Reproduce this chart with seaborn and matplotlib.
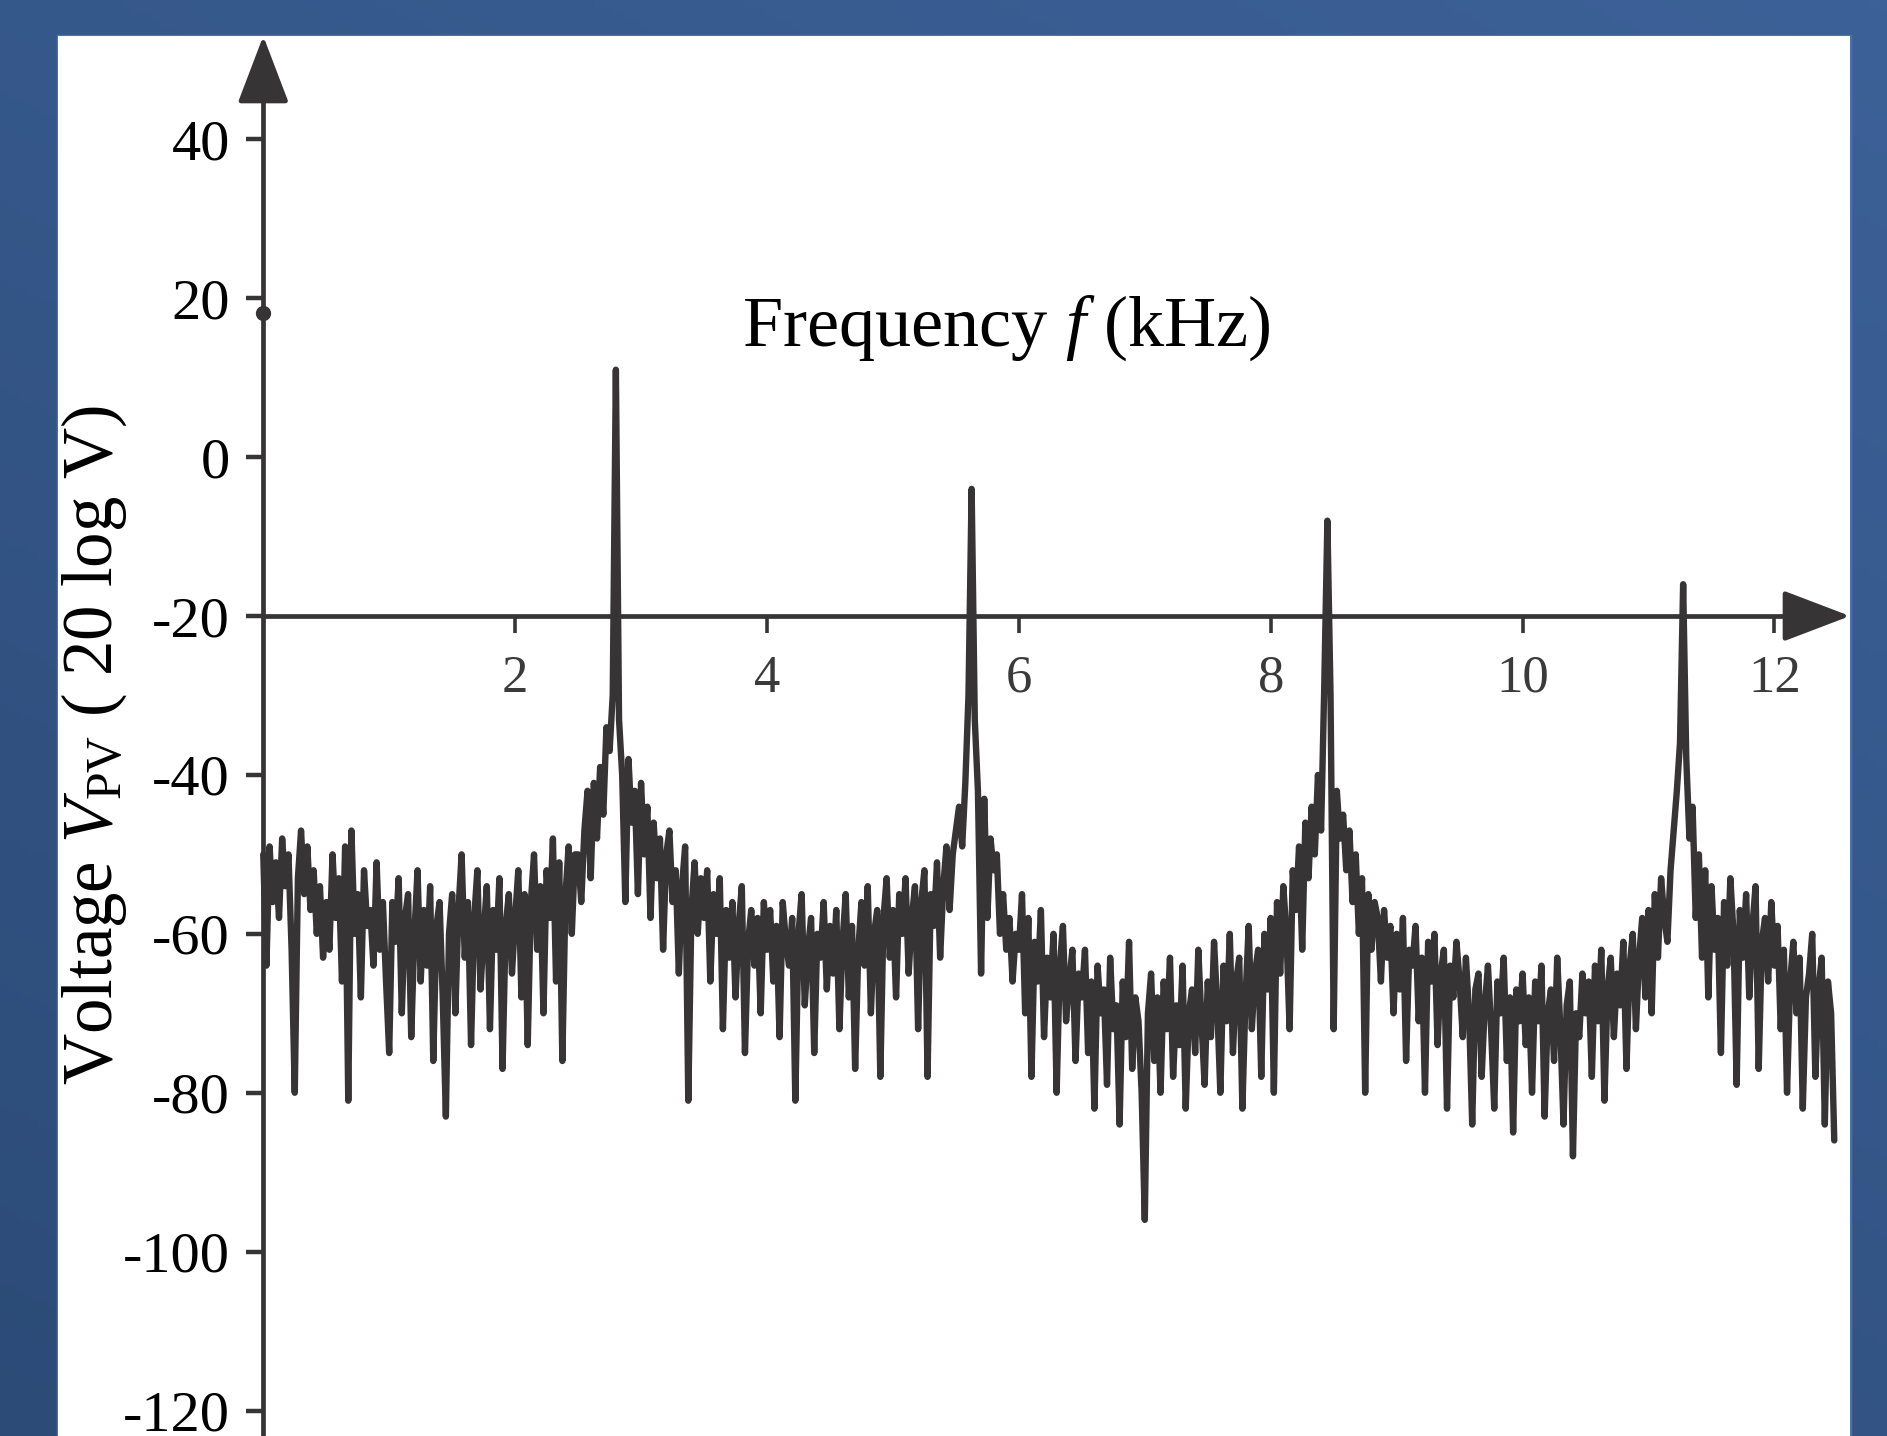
#Espectro de tension del PV (FFT) - recreacion del grafico
import numpy as np
import matplotlib
matplotlib.use("Agg")
import matplotlib.pyplot as plt
from matplotlib.colors import LinearSegmentedColormap
from matplotlib.patches import Rectangle
import seaborn as sns

# Datos: un valor cada 0.025 kHz, desde 0 hasta 12.475 kHz
FREQ_STEP = 0.025
voltage_db = [
    # 0.0 - 0.475
    -50, -64, -49, -56, -51, -58, -48, -54, -50, -62, -80, -53, -47, -55, -49, -57, -52, -60, -54, -63,
    # 0.5 - 0.975
    -56, -62, -50, -58, -53, -66, -49, -81, -47, -60, -55, -68, -52, -59, -57, -64, -51, -62, -56, -66,
    # 1.0 - 1.475
    -75, -56, -61, -53, -70, -58, -55, -73, -60, -52, -66, -57, -64, -54, -76, -59, -56, -68, -83, -60,
    # 1.5 - 1.975
    -55, -70, -57, -50, -63, -56, -74, -58, -52, -67, -60, -54, -72, -57, -62, -53, -77, -59, -55, -65,
    # 2.0 - 2.475
    -58, -52, -68, -55, -74, -56, -50, -62, -54, -70, -52, -58, -48, -66, -51, -76, -55, -49, -60, -50,
    # 2.5 - 2.975 (fundamental en 2.8 kHz)
    -50, -56, -47, -42, -53, -41, -48, -39, -45, -34, -37, -30, 11, -33, -40, -56, -38, -46, -42, -55,
    # 3.0 - 3.475
    -41, -50, -44, -58, -46, -53, -48, -62, -50, -47, -56, -52, -65, -54, -49, -81, -57, -51, -60, -53,
    # 3.5 - 3.975
    -58, -52, -66, -55, -60, -53, -72, -57, -63, -56, -68, -59, -54, -75, -61, -57, -64, -58, -70, -56,
    # 4.0 - 4.475
    -62, -57, -66, -59, -73, -56, -61, -64, -58, -81, -60, -55, -69, -62, -58, -75, -60, -63, -56, -67,
    # 4.5 - 4.975
    -59, -65, -57, -72, -61, -55, -68, -59, -77, -62, -56, -64, -54, -70, -60, -57, -78, -58, -53, -63,
    # 5.0 - 5.475
    -57, -68, -55, -60, -53, -65, -58, -54, -72, -56, -52, -78, -55, -59, -51, -63, -54, -49, -57, -50,
    # 5.5 - 5.975 (2do armonico en 5.625 kHz)
    -47, -44, -49, -41, -30, -4, -33, -42, -65, -43, -58, -48, -52, -50, -60, -55, -62, -58, -66, -60,
    # 6.0 - 6.475
    -62, -55, -70, -58, -78, -61, -66, -57, -73, -63, -68, -60, -80, -64, -59, -71, -66, -62, -76, -65,
    # 6.5 - 6.975
    -68, -62, -75, -66, -82, -64, -70, -67, -79, -63, -72, -69, -84, -66, -73, -61, -77, -68, -71, -80,
    # 7.0 - 7.475
    -96, -70, -65, -76, -68, -80, -66, -72, -63, -78, -69, -74, -64, -82, -70, -67, -75, -62, -71, -79,
    # 7.5 - 7.975
    -66, -73, -61, -69, -80, -64, -71, -60, -75, -66, -63, -82, -68, -59, -72, -65, -62, -78, -60, -67,
    # 8.0 - 8.475 (3er armonico en 8.45 kHz)
    -58, -80, -56, -65, -54, -60, -72, -52, -57, -49, -62, -46, -53, -44, -50, -40, -47, -29, -8, -30,
    # 8.5 - 8.975
    -72, -42, -48, -45, -52, -47, -56, -50, -60, -53, -80, -55, -62, -56, -58, -66, -57, -63, -59, -70,
    # 9.0 - 9.475
    -60, -67, -58, -76, -62, -64, -59, -71, -63, -80, -61, -66, -60, -74, -65, -62, -82, -64, -68, -61,
    # 9.5 - 9.975
    -66, -73, -63, -70, -84, -67, -65, -78, -69, -64, -72, -82, -66, -70, -63, -76, -68, -85, -67, -71,
    # 10.0 - 10.475
    -65, -74, -68, -80, -66, -71, -64, -83, -70, -67, -76, -63, -72, -84, -69, -66, -88, -70, -73, -65,
    # 10.5 - 10.975
    -70, -66, -78, -64, -71, -62, -81, -67, -63, -73, -65, -69, -61, -77, -64, -60, -72, -63, -58, -68,
    # 11.0 - 11.475 (4to armonico en 11.275 kHz)
    -57, -70, -55, -63, -53, -58, -61, -52, -47, -42, -36, -16, -38, -48, -44, -58, -50, -63, -52, -68,
    # 11.5 - 11.975
    -54, -62, -58, -75, -56, -64, -53, -60, -79, -57, -63, -55, -68, -59, -54, -77, -61, -58, -66, -56,
    # 12.0 - 12.475
    -64, -59, -72, -62, -80, -66, -61, -70, -63, -82, -68, -65, -60, -78, -67, -63, -84, -66, -70, -86,
]
freq_khz = np.arange(len(voltage_db)) * FREQ_STEP

x_ticks = [2, 4, 6, 8, 10, 12]
y_ticks = [40, 20, 0, -20, -40, -60, -80, -100, -120]
y_marker = 18.2   # punto marcado sobre el eje vertical

X_LIM = (-1.63, 12.60)
Y_LIM = (-123.2, 53.0)
LINE_COLOR = "#363435"

sns.set_theme(style="white")
plt.rcParams["font.family"] = ["Liberation Serif", "DejaVu Serif"]
plt.rcParams["mathtext.fontset"] = "custom"
plt.rcParams["mathtext.rm"] = "Liberation Serif"
plt.rcParams["mathtext.it"] = "Liberation Serif:italic"
plt.rcParams["axes.unicode_minus"] = False

fig = plt.figure(figsize=(18.87, 14.36), dpi=100)
fig.patch.set_facecolor("#35598b")

# Fondo azul con degradado
bg = fig.add_axes([0, 0, 1, 1], zorder=-10)
gx, gy = np.meshgrid(np.linspace(0, 1, 200), np.linspace(0, 1, 200))
grad = 0.6 * gy + 0.4 * gx
cmap_bg = LinearSegmentedColormap.from_list("bg", ["#2c4b77", "#3c6198"])
bg.imshow(grad, aspect="auto", extent=[0, 1, 0, 1], origin="lower", cmap=cmap_bg)
bg.axis("off")

# Panel blanco con el grafico
ax = fig.add_axes([58 / 1887, 0.0, (1850 - 58) / 1887, 1 - 36 / 1436])
ax.set_facecolor("white")
fig.patches.append(Rectangle((58 / 1887, -0.01), (1850 - 58) / 1887, 1.01 - 36 / 1436,
                             transform=fig.transFigure, fill=False,
                             edgecolor="#4a72aa", linewidth=2.5, zorder=-5))

sns.lineplot(x=freq_khz, y=voltage_db, ax=ax, color=LINE_COLOR, linewidth=4.6,
             estimator=None, sort=False, solid_joinstyle="round", solid_capstyle="round")
ax.plot([0], [y_marker], "o", color=LINE_COLOR, markersize=10, zorder=5)

ax.set_xlim(*X_LIM)
ax.set_ylim(*Y_LIM)

# Ejes cruzados tipo "flecha"
for side in ["top", "right"]:
    ax.spines[side].set_visible(False)
ax.spines["left"].set_position(("data", 0))
ax.spines["bottom"].set_position(("data", -20))
ax.spines["left"].set_bounds(Y_LIM[0], 46)
ax.spines["bottom"].set_bounds(0, 12.2)
for side in ["left", "bottom"]:
    ax.spines[side].set_color(LINE_COLOR)
    ax.spines[side].set_linewidth(3.4)

arrow = dict(arrowstyle="-|>,head_length=2.1,head_width=0.8", color=LINE_COLOR,
             lw=3.4, shrinkA=0, shrinkB=0, mutation_scale=20)
ax.annotate("", xy=(0, Y_LIM[1]), xytext=(0, 45), arrowprops=arrow)
ax.annotate("", xy=(X_LIM[1], -20), xytext=(12.1, -20), arrowprops=arrow)

ax.set_xticks(x_ticks)
ax.set_xticklabels([str(t) for t in x_ticks])
ax.set_yticks(y_ticks)
ax.set_yticklabels([str(t) for t in y_ticks])
ax.tick_params(axis="x", direction="out", length=12, width=2.6, color=LINE_COLOR,
               labelsize=38, labelcolor="#3a3a3a", pad=16, bottom=True)
ax.tick_params(axis="y", direction="out", length=12, width=3.2, color=LINE_COLOR,
               labelsize=42, labelcolor="black", pad=12, left=True)
ax.grid(False)
ax.set_xlabel("")
ax.set_ylabel("")

# Titulos de los ejes dentro del panel
ax.text(5.9, 14, r"Frequency $f$ (kHz)", fontsize=52, ha="center", va="baseline", color="black")
ax.text(-1.34, -36.3, r"Voltage $V_{\mathrm{PV}}$ ( 20 log V)", fontsize=51, rotation=90,
        ha="center", va="center", color="black")

plt.savefig("out.png", dpi=100)
plt.close()
